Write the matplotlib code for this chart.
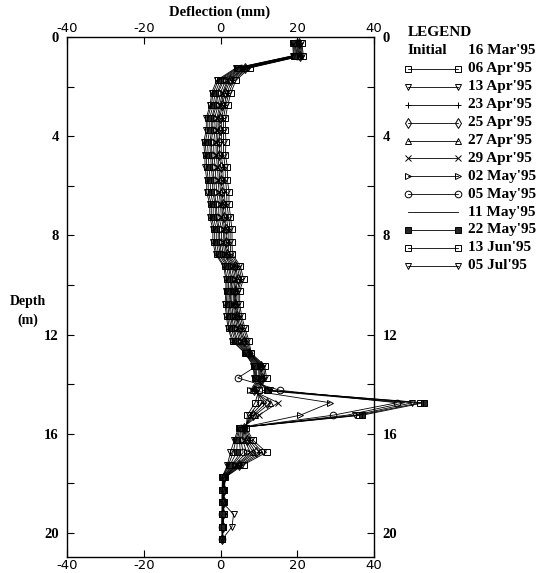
import numpy as np
import matplotlib.pyplot as plt
from matplotlib.ticker import MultipleLocator

plt.rcParams['font.family'] = ['Liberation Serif', 'DejaVu Serif']
plt.rcParams['axes.unicode_minus'] = False

# depth of each reading (m)
depth = [0.25, 0.75, 1.25, 1.75, 2.25, 2.75, 3.25, 3.75, 4.25, 4.75,
         5.25, 5.75, 6.25, 6.75, 7.25, 7.75, 8.25, 8.75, 9.25, 9.75,
         10.25, 10.75, 11.25, 11.75, 12.25, 12.75, 13.25, 13.75, 14.25, 14.75,
         15.25, 15.75, 16.25, 16.75, 17.25, 17.75, 18.25, 18.75, 19.25, 19.75,
         20.25]

# deflection (mm) for each survey date
apr06 = [21.2, 21.6, 7.6, 4.0, 2.7, 1.9, 1.3, 1.3, 1.4, 1.3, 1.8, 1.8, 2.2, 2.2, 2.6, 3.0, 3.0, 3.1, 5.2, 6.0,
         5.0, 5.0, 5.5, 6.4, 7.4, 8.0, 11.5, 12.0, 10.0, 9.0, 7.0, 6.7, 8.4, 12.0, 6.0, 1.3, 1.0, 0.9, 0.8, 0.7, 0.5]
apr13 = [21.0, 21.3, 7.2, 3.5, 2.2, 1.4, 0.8, 0.8, 0.8, 0.8, 1.2, 1.3, 1.6, 1.7, 2.1, 2.5, 2.5, 2.7, 4.8, 5.5,
         4.6, 4.6, 5.1, 6.0, 7.0, 7.8, 11.2, 11.6, 9.6, 10.0, 7.5, 6.5, 7.9, 11.0, 5.6, 1.2, 0.9, 0.9, 0.8, 0.7, 0.5]
apr23 = [20.7, 21.1, 6.9, 3.0, 1.7, 1.0, 0.3, 0.3, 0.2, 0.2, 0.6, 0.7, 1.0, 1.2, 1.5, 2.0, 2.0, 2.2, 4.3, 5.1,
         4.3, 4.2, 4.7, 5.5, 6.5, 7.7, 10.9, 11.2, 9.2, 11.0, 8.0, 6.3, 7.4, 10.1, 5.2, 1.1, 0.9, 0.8, 0.7, 0.6, 0.5]
apr25 = [20.5, 20.8, 6.5, 2.5, 1.2, 0.5, -0.2, -0.2, -0.3, -0.3, 0.1, 0.2, 0.5, 0.7, 1.0, 1.5, 1.5, 1.8, 3.9, 4.6,
         3.9, 3.9, 4.3, 5.1, 6.1, 7.5, 10.6, 10.8, 8.8, 12.0, 8.5, 6.1, 7.0, 9.2, 4.7, 1.0, 0.8, 0.8, 0.7, 0.6, 0.5]
apr27 = [20.3, 20.6, 6.3, 2.1, 0.8, 0.2, -0.6, -0.6, -0.8, -0.7, -0.4, -0.2, 0.0, 0.3, 0.6, 1.1, 1.1, 1.5, 3.6, 4.3,
         3.7, 3.6, 4.0, 4.8, 5.8, 7.4, 10.4, 10.5, 8.5, 13.0, 9.0, 6.0, 6.6, 8.5, 4.4, 1.0, 0.8, 0.7, 0.7, 0.6, 0.5]
apr29 = [20.1, 20.4, 6.0, 1.8, 0.5, -0.2, -0.9, -1.0, -1.2, -1.1, -0.8, -0.6, -0.4, 0.0, 0.2, 0.8, 0.7, 1.1, 3.2, 3.9,
         3.4, 3.3, 3.7, 4.4, 5.4, 7.3, 10.2, 10.2, 8.2, 15.0, 10.0, 5.8, 6.2, 7.8, 4.1, 0.9, 0.7, 0.7, 0.6, 0.5, 0.5]
may02 = [19.9, 20.2, 5.6, 1.3, 0.0, -0.6, -1.5, -1.4, -1.8, -1.7, -1.4, -1.2, -1.0, -0.5, -0.4, 0.3, 0.2, 0.7, 2.8, 3.5,
         3.0, 2.9, 3.3, 4.0, 5.0, 7.1, 9.9, 9.8, 7.8, 28.6, 20.8, 5.6, 5.8, 6.8, 3.7, 0.9, 0.7, 0.6, 0.6, 0.5, 0.5]
may05 = [19.6, 19.9, 5.3, 0.8, -0.6, -1.1, -2.0, -2.0, -2.4, -2.2, -2.0, -1.7, -1.6, -1.1, -0.9, -0.3, -0.2, 0.2, 2.3, 3.0,
         2.7, 2.5, 2.9, 3.5, 4.5, 7.0, 9.6, 4.5, 15.6, 46.0, 29.4, 5.4, 5.3, 5.9, 3.3, 0.8, 0.6, 0.6, 0.5, 0.5, 0.5]
may11 = [19.5, 19.7, 5.0, 0.4, -0.9, -1.4, -2.3, -2.3, -2.8, -2.6, -2.4, -2.1, -2.0, -1.4, -1.3, -0.6, -0.6, -0.1, 2.0, 2.7,
         2.4, 2.2, 2.6, 3.2, 4.2, 6.8, 9.3, 9.4, 11.0, 48.0, 33.0, 5.3, 4.9, 5.2, 3.0, 0.7, 0.6, 0.5, 0.5, 0.4, 0.5]
may22 = [19.2, 19.5, 4.6, -0.1, -1.4, -1.9, -2.8, -2.8, -3.4, -3.2, -3.0, -2.7, -2.6, -1.9, -1.9, -1.1, -1.1, -0.5, 1.6, 2.2,
         2.0, 1.9, 2.2, 2.8, 3.8, 6.7, 9.0, 9.2, 12.0, 53.0, 37.0, 5.1, 4.4, 4.2, 2.5, 0.6, 0.5, 0.5, 0.4, 0.4, 0.5]
jun13 = [19.0, 19.2, 4.3, -0.6, -1.9, -2.4, -3.3, -3.3, -4.0, -3.7, -3.6, -3.2, -3.2, -2.4, -2.4, -1.6, -1.6, -1.0, 1.1, 1.7,
         1.7, 1.5, 1.8, 2.3, 3.3, 6.5, 8.7, 9.0, 12.5, 52.0, 36.0, 4.9, 4.0, 3.3, 2.1, 0.5, 0.5, 0.4, 0.4, 0.3, 0.5]
jul05 = [18.8, 19.0, 4.0, -1.0, -2.3, -2.7, -3.7, -3.7, -4.4, -4.1, -4.0, -3.6, -3.6, -2.8, -2.8, -2.0, -2.0, -1.3, 0.8, 1.4,
         1.4, 1.2, 1.5, 2.0, 3.0, 6.4, 8.5, 8.8, 13.0, 50.0, 35.0, 4.7, 3.6, 2.6, 1.8, 0.5, 0.4, 0.4, 3.4, 3.0, 0.5]

series = [apr06, apr13, apr23, apr25, apr27, apr29, may02, may05, may11, may22, jun13, jul05]
dates = ["06 Apr'95", "13 Apr'95", "23 Apr'95", "25 Apr'95", "27 Apr'95", "29 Apr'95",
         "02 May'95", "05 May'95", "11 May'95", "22 May'95", "13 Jun'95", "05 Jul'95"]
markers = ['s', 'v', '+', 'd', '^', 'x', '>', 'o', 'None', 's', 's', 'v']
faces = ['none', 'none', 'none', 'none', 'none', 'none', 'none', 'none', 'none', '0.15', 'none', 'none']

fig = plt.figure(figsize=(5.44, 5.73), dpi=100)
ax = fig.add_axes([67/544, 1 - 557/573, 307/544, 520/573])

for vals, m, fc in zip(series, markers, faces):
    ax.plot(vals, depth, color='k', lw=0.6, marker=m, ms=4.8, mfc=fc, mec='k', mew=0.7, clip_on=False)

ax.set_xlim(-40, 40)
ax.set_ylim(20.97, 0)
ax.set_xticks([-40, -20, 0, 20, 40])
ax.yaxis.set_major_locator(MultipleLocator(4))
ax.yaxis.set_minor_locator(MultipleLocator(2))
ax.tick_params(which='both', direction='in', top=True, bottom=True, left=True, right=True,
               labeltop=True, labelright=True, width=0.8, length=5)
ax.tick_params(axis='x', labelsize=9.5, pad=1.5)
ax.tick_params(axis='y', labelsize=10.5, pad=6)
for lab in ax.get_xticklabels():
    lab.set_family('DejaVu Sans')
for lab in ax.get_yticklabels():
    lab.set_fontweight('bold')
for sp in ax.spines.values():
    sp.set_linewidth(1.0)

fig.text(220/544, 1 - 12/573, 'Deflection (mm)', ha='center', va='center', fontsize=10.5, fontweight='bold')
fig.text(28/544, 1 - 311/573, 'Depth\n(m)', ha='center', va='center', fontsize=10, fontweight='bold',
         linespacing=1.6)

# legend panel
leg = fig.add_axes([395/544, 1 - 280/573, 149/544, 260/573])
leg.set_xlim(395, 544)
leg.set_ylim(280, 20)
leg.axis('off')
leg.text(408, 33, 'LEGEND', ha='left', va='center', fontsize=11, fontweight='bold')
leg.text(408, 51, 'Initial', ha='left', va='center', fontsize=11, fontweight='bold')
leg.text(468, 51, "16 Mar'95", ha='left', va='center', fontsize=11, fontweight='bold')
for i, (d, m, fc) in enumerate(zip(dates, markers, faces)):
    y = 51 + 17.9 * (i + 1)
    leg.plot([408, 458], [y, y], color='k', lw=0.6, marker=m, ms=4.8, mfc=fc, mec='k', mew=0.7)
    leg.text(468, y, d, ha='left', va='center', fontsize=11, fontweight='bold')

plt.savefig('out.png', dpi=100)
